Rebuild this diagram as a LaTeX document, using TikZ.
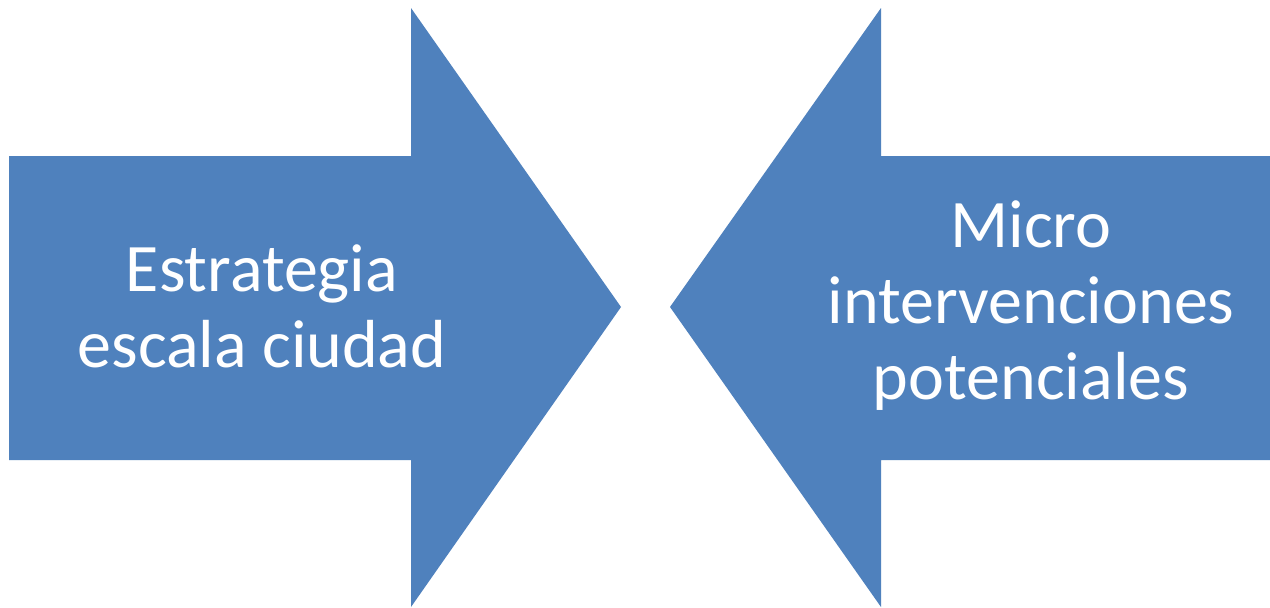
\documentclass[tikz,border=0pt]{standalone}
\usepackage{fontspec}
\setmainfont{Carlito}
\definecolor{arrowblue}{HTML}{4F81BD}
\begin{document}
\begin{tikzpicture}[x=1pt,y=-1pt,
  arrowshape/.style={fill=arrowblue,draw=none},
  label/.style={text=white,align=center,font=\fontsize{68}{76}\selectfont,inner sep=0pt}]
\useasboundingbox (0,0) rectangle (1270,608);
\fill[white] (0,0) rectangle (1270,608);
% left arrow
\path[arrowshape] (9,156) -- (411,156) -- (411,8) -- (621,307) -- (411,607) -- (411,460) -- (9,460) -- cycle;
% right arrow
\path[arrowshape] (1270,156) -- (881,156) -- (881,8) -- (670,307) -- (881,607) -- (881,460) -- (1270,460) -- cycle;
\node[label] (left) at (262,306) {Estrategia\\escala ciudad};
\node[label] (right) at (1031,306) {Micro\\intervenciones\\potenciales};
\end{tikzpicture}
\end{document}
